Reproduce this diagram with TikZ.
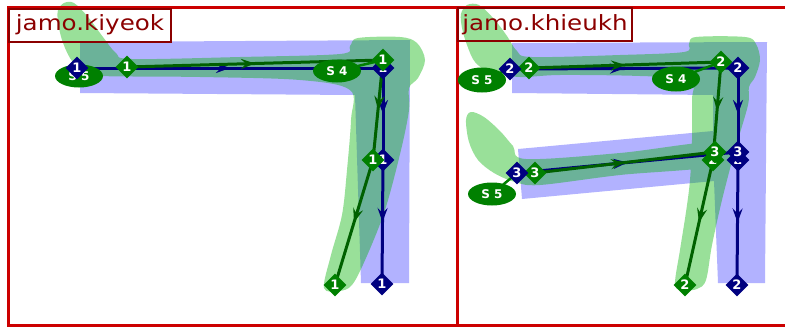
\documentclass[tikz,border=0pt]{standalone}
\usepackage{fontspec}
\usetikzlibrary{shapes.geometric,arrows.meta,decorations.markings}
\newfontfamily\titlefont{DejaVu Sans}
\newfontfamily\labfont{DejaVu Sans}
\definecolor{framered}{RGB}{204,0,0}
\definecolor{titlered}{RGB}{139,0,0}
\definecolor{navyc}{RGB}{0,0,128}
\definecolor{greenc}{RGB}{0,128,0}
\definecolor{dgreen}{RGB}{0,96,0}
\definecolor{bandblue}{RGB}{0,0,255}
\definecolor{bandgreen}{RGB}{0,178,0}
\tikzset{
  bpt/.style={diamond, fill=navyc, text=white, inner sep=0pt, minimum width=23pt, minimum height=23pt,
    font=\labfont\bfseries\fontsize{13}{13}\selectfont},
  gpt/.style={bpt, fill=greenc},
  sell/.style={ellipse, fill=greenc, text=white, inner sep=0pt, minimum width=48pt, minimum height=24pt,
    font=\labfont\bfseries\fontsize{12}{12}\selectfont},
  bline/.style={draw=navyc, line width=3pt, postaction={decorate},
    decoration={markings, mark=at position 0.5 with {\arrow[color=navyc]{Stealth[length=14pt,width=10pt,inset=5pt]}}}},
  gline/.style={draw=dgreen, line width=3pt, postaction={decorate},
    decoration={markings, mark=at position 0.5 with {\arrow[color=dgreen]{Stealth[length=14pt,width=10pt,inset=5pt]}}}},
  sline/.style={draw=greenc, line width=2.5pt},
  blueband/.style={fill=bandblue, fill opacity=0.3},
  greenband/.style={fill=bandgreen, fill opacity=0.4},
  framebox/.style={draw=framered, line width=3pt},
  titlebox/.style={draw=titlered, line width=2pt, text=titlered, inner sep=0pt, minimum height=33pt,
    font=\titlefont\fontsize{21}{21}\selectfont},
}
\begin{document}
\begin{tikzpicture}[x=1pt,y=-1pt]
\path[use as bounding box] (0,0) rectangle (785,327);
\clip (0,0) rectangle (785,327);
% ---------- bands ----------
\fill[blueband] (80,42) -- (410,40) -- (409,283) -- (361,283) -- (355,95) -- (80,93) -- cycle;
\fill[blueband] (512,43) -- (767,42) -- (765,283) -- (718,283) -- (714,181) -- (522,199) -- (518,149)
  -- (713,131) -- (713,95) -- (512,93) -- cycle;
\fill[greenband] plot[smooth cycle, tension=0.55] coordinates {
  (58,10) (64,3) (74,3) (88,17) (103,37) (116,53) (132,59) (240,57) (340,54) (350,46) (358,38)
  (400,37) (417,43) (425,60) (418,78) (409,88) (409,110) (401,150) (385,210) (366,258) (352,285)
  (339,291) (324,288) (331,255) (342,215) (347,170) (351,120) (350,90) (300,80) (200,77) (100,76)
  (82,72) (70,58) (62,40) (58,22)};
\fill[greenband]
  plot[smooth cycle, tension=0.55] coordinates {
  (461,14) (467,5) (479,5) (494,19) (507,36) (517,51) (532,57) (620,55) (684,52) (689,44) (696,37)
  (745,37) (756,44) (760,60) (755,77) (749,87) (748,105) (735,150) (722,200) (712,245) (706,280)
  (697,289) (684,290) (675,285) (680,250) (686,212) (690,180) (692,140) (692,100) (690,80)
  (640,76) (560,75) (520,77) (490,72) (475,62) (467,45) (462,28)}
  plot[smooth cycle, tension=0.55] coordinates {
  (466,120) (471,112) (484,117) (500,131) (513,146) (526,159) (620,153) (720,142) (722,165)
  (620,175) (540,185) (515,182) (494,173) (478,160) (469,142)};
% ---------- frames and titles ----------
\draw[framebox] (8,7.5) rectangle (457.5,325);
\draw[framebox] (457.5,7.5) rectangle (907.5,325);
\node[titlebox, minimum width=162pt] (title1) at (90,25) {\scalebox{1.17}[1]{jamo.kiyeok}};
\node[titlebox, minimum width=174pt] (title2) at (545,24.5) {\scalebox{1.17}[1]{jamo.khieukh}};
% ---------- point coordinates ----------
\coordinate (pb1a) at (77,68);   \coordinate (pb1b) at (383,68);
\coordinate (pb1c) at (383,160); \coordinate (pb1d) at (382,284);
\coordinate (pg1a) at (127,67);  \coordinate (pg1b) at (383,60);
\coordinate (pg1c) at (373,160); \coordinate (pg1d) at (335,285);
\coordinate (pb2a) at (510,69);  \coordinate (pb2b) at (738,68);
\coordinate (pb2c) at (738,160); \coordinate (pb2d) at (737,285);
\coordinate (pg2a) at (529,68);  \coordinate (pg2b) at (721,62);
\coordinate (pg2c) at (713,160); \coordinate (pg2d) at (685,285);
\coordinate (pb3a) at (517,173); \coordinate (pb3b) at (738,152);
\coordinate (pg3a) at (535,173); \coordinate (pg3b) at (715,152);
% ---------- connectors ----------
\draw[bline] (pb1a) -- (pb1b);
\draw[bline] (pb1b) -- (pb1c);
\draw[bline] (pb1c) -- (pb1d);
\draw[gline] (pg1a) -- (pg1b);
\draw[gline] (pg1b) -- (pg1c);
\draw[gline] (pg1c) -- (pg1d);
\draw[bline] (pb2a) -- (pb2b);
\draw[bline] (pb2b) -- (pb2c);
\draw[bline] (pb2c) -- (pb2d);
\draw[bline] (pb3a) -- (pb3b);
\draw[gline] (pg2a) -- (pg2b);
\draw[gline] (pg2b) -- (pg2c);
\draw[gline] (pg2c) -- (pg2d);
\draw[gline] (pg3a) -- (pg3b);
% ---------- start/end labels ----------
\coordinate (ps5a) at (79,76);
\coordinate (ps4a) at (337,71);
\coordinate (ps5b) at (482,80);
\coordinate (ps4b) at (676,79);
\coordinate (ps5c) at (492,194);
\draw[sline] (ps5a) -- (pb1a);
\draw[sline] (ps4a) -- (pg1b);
\draw[sline] (ps5b) -- (pb2a);
\draw[sline] (ps4b) -- (pg2b);
\draw[sline] (ps5c) -- (pb3a);
\node[sell, minimum height=23pt] (s5a) at (ps5a) {S 5};
\node[sell, minimum height=23pt] (s4a) at (ps4a) {S 4};
\node[sell, minimum height=25pt] (s5b) at (ps5b) {S 5};
\node[sell, minimum height=25pt] (s4b) at (ps4b) {S 4};
\node[sell, minimum height=23pt] (s5c) at (ps5c) {S 5};
% ---------- points ----------
\node[bpt] (b1a) at (pb1a) {1};
\node[bpt] (b1b) at (pb1b) {1};
\node[bpt] (b1c) at (pb1c) {1};
\node[bpt] (b1d) at (pb1d) {1};
\node[gpt] (g1a) at (pg1a) {1};
\node[gpt] (g1b) at (pg1b) {1};
\node[gpt] (g1c) at (pg1c) {1};
\node[gpt] (g1d) at (pg1d) {1};
\node[gpt] (g2a) at (pg2a) {2};
\node[gpt] (g2b) at (pg2b) {2};
\node[gpt] (g2c) at (pg2c) {2};
\node[gpt] (g2d) at (pg2d) {2};
\node[gpt] (g3a) at (pg3a) {3};
\node[gpt] (g3b) at (pg3b) {3};
\node[bpt] (b2a) at (pb2a) {2};
\node[bpt] (b2b) at (pb2b) {2};
\node[bpt] (b2c) at (pb2c) {2};
\node[bpt] (b2d) at (pb2d) {2};
\node[bpt] (b3a) at (pb3a) {3};
\node[bpt] (b3b) at (pb3b) {3};
\end{tikzpicture}
\end{document}
